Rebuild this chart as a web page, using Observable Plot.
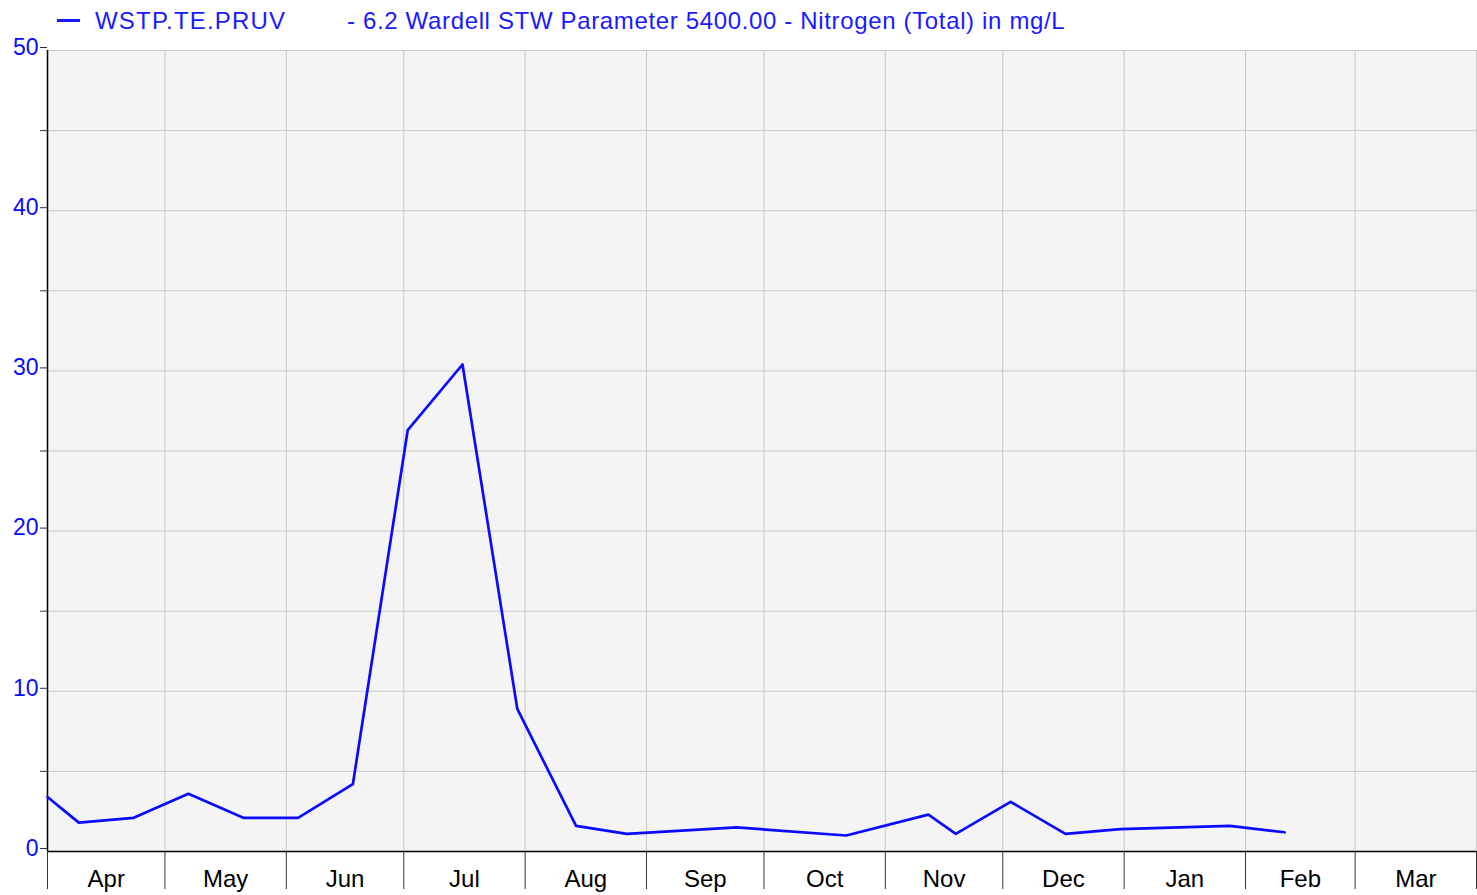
<!DOCTYPE html>
<html>
<head>
<meta charset="utf-8">
<script src="https://cdn.jsdelivr.net/npm/d3@7"></script>
<script src="https://cdn.jsdelivr.net/npm/@observablehq/plot@0.6"></script>
<style>
  html, body { margin: 0; padding: 0; background: #fff; }
  body { width: 1477px; height: 895px; overflow: hidden; font-family: "Liberation Sans", Arial, sans-serif; }
  #legend { position: relative; height: 32px; color: #1a1aff; font-size: 24px; line-height: 24px; }
  #legend .dash { position: absolute; left: 57px; top: 19px; width: 23px; height: 3px; background: #1a1aff; }
  #legend .t1 { position: absolute; left: 95px; top: 9px; white-space: nowrap; letter-spacing: 1.2px; }
  #legend .t2 { position: absolute; left: 347px; top: 9px; white-space: nowrap; letter-spacing: 0.65px; }
  #chart svg { display: block; }
</style>
</head>
<body>
<div id="legend">
  <div class="dash"></div>
  <span class="t1" id="seriesName"></span>
  <span class="t2" id="seriesDesc"></span>
</div>
<div id="chart"></div>
<script>
// ---- data ----
const seriesName = "WSTP.TE.PRUV";
const seriesDesc = "- 6.2 Wardell STW Parameter 5400.00 - Nitrogen (Total) in mg/L";
const sampleDates = ["2022-04-01","2022-04-09","2022-04-23","2022-05-07","2022-05-21","2022-06-04","2022-06-18",
  "2022-07-02","2022-07-16","2022-07-30","2022-08-14","2022-08-27","2022-09-24","2022-10-22","2022-11-12",
  "2022-11-19","2022-12-03","2022-12-17","2022-12-31","2023-01-28","2023-02-11"];
const nitrogen = [3.4, 1.8, 2.1, 3.6, 2.1, 2.1, 4.2, 26.3, 30.4, 8.9, 1.6, 1.1, 1.5, 1.0, 2.3, 1.1, 3.1, 1.1, 1.4, 1.6, 1.2];
const monthLabels = ["Apr","May","Jun","Jul","Aug","Sep","Oct","Nov","Dec","Jan","Feb","Mar"];
const monthStartStrs = ["2022-04-01","2022-05-01","2022-06-01","2022-07-01","2022-08-01","2022-09-01",
  "2022-10-01","2022-11-01","2022-12-01","2023-01-01","2023-02-01","2023-03-01","2023-04-01"];
const yMajor = [0, 10, 20, 30, 40, 50];
const yMinor = [5, 15, 25, 35, 45];

document.getElementById("seriesName").textContent = seriesName;
document.getElementById("seriesDesc").textContent = seriesDesc;

const data = sampleDates.map((d, i) => ({date: new Date(d), value: nitrogen[i]}));
const monthStarts = monthStartStrs.map(d => new Date(d));
const monthMids = monthLabels.map((m, i) => ({
  date: new Date((monthStarts[i].getTime() + monthStarts[i + 1].getTime()) / 2),
  label: m
}));
const domainX = [monthStarts[0], monthStarts[monthStarts.length - 1]];

const chart = Plot.plot({
  width: 1477,
  height: 863,
  marginLeft: 47,
  marginRight: 1,
  marginTop: 18,
  marginBottom: 44,
  style: {fontFamily: "'Liberation Sans', Arial, sans-serif", background: "transparent"},
  x: {type: "utc", domain: domainX},
  y: {domain: [0, 50]},
  marks: [
    Plot.frame({fill: "#f4f4f4", stroke: "#666"}),
    Plot.gridY({ticks: yMajor.concat(yMinor), stroke: "#c8c8c8", strokeOpacity: 1, strokeWidth: 1}),
    Plot.gridX({ticks: monthStarts, stroke: "#c8c8c8", strokeOpacity: 1, strokeWidth: 1}),
    Plot.ruleX([domainX[0]], {stroke: "#000", strokeWidth: 1.5}),
    Plot.ruleY([0], {stroke: "#000", strokeWidth: 1.5}),
    Plot.line(data, {x: "date", y: "value", stroke: "#0a0aff", strokeWidth: 2.7}),
    Plot.axisY({ticks: yMajor, tickSize: 7, tickPadding: 2, dy: -3, fontSize: 23, fill: "#0a0aff", stroke: "#333", label: null}),
    Plot.axisY({ticks: yMinor, tickSize: 7, tickFormat: () => "", stroke: "#333", label: null}),
    Plot.axisX({ticks: monthStarts, tickSize: 38, tickFormat: () => "", stroke: "#333", label: null}),
    Plot.text(monthMids, {x: "date", text: "label", frameAnchor: "bottom", dy: 28, lineAnchor: "middle", fontSize: 24, fill: "#000"})
  ]
});
document.getElementById("chart").appendChild(chart);
</script>
</body>
</html>
